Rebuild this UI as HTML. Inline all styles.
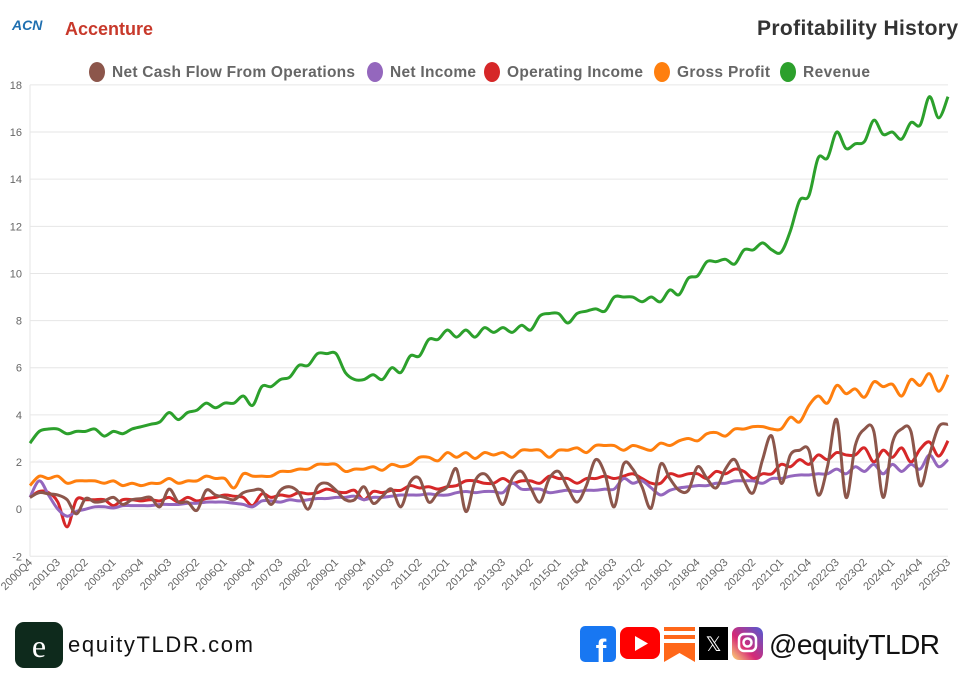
<!DOCTYPE html>
<html><head><meta charset="utf-8"><style>
body{margin:0;background:#fff;font-family:"Liberation Sans",sans-serif;}
#wrap{position:relative;width:960px;height:682px;overflow:hidden;}
</style></head><body>
<div id="wrap">
<svg id="chart" width="960" height="682" viewBox="0 0 960 682" xmlns="http://www.w3.org/2000/svg">
  <text x="12" y="30" font-size="14" font-weight="bold" font-style="italic" fill="#1f6fb0">ACN</text>
  <text x="65" y="35" font-size="18" font-weight="bold" fill="#c8392b">Accenture</text>
  <text x="958" y="35" font-size="21" font-weight="bold" fill="#333" text-anchor="end" textLength="201">Profitability History</text>
  <g id="legend"></g>
  <g id="grid"></g>
  <g id="yaxis"></g>
  <g id="xaxis"></g>
  <g id="series"></g>
  <!-- footer -->
  <rect x="15" y="622" width="48" height="46" rx="9" fill="#0e2a1c"/>
  <text x="39" y="657" font-size="32" font-family="Liberation Serif,serif" fill="#fff" text-anchor="middle">e</text>
  <text x="68" y="652" font-size="22" fill="#111" textLength="185">equityTLDR.com</text>
  <rect x="580" y="626" width="36" height="36" rx="5" fill="#1877f2"/>
  <text x="601" y="662" font-size="32" font-weight="bold" fill="#fff" text-anchor="middle">f</text>
  <rect x="620" y="627" width="40" height="32" rx="8" fill="#ff0000"/>
  <polygon points="635,636 635,651 648,643.5" fill="#fff"/>
  <g><rect x="664" y="627" width="31" height="4" fill="#ff6719"/><rect x="664" y="635" width="31" height="4" fill="#ff6719"/><polygon points="664,643 695,643 695,662 679.5,653 664,662" fill="#ff6719"/></g>
  <rect x="699" y="627" width="29" height="33" fill="#000"/>
  <text x="713.5" y="651" font-size="20" fill="#fff" text-anchor="middle">𝕏</text>
  <defs><linearGradient id="ig" x1="0" y1="1" x2="1" y2="0"><stop offset="0" stop-color="#feda75"/><stop offset="0.4" stop-color="#d62976"/><stop offset="1" stop-color="#4f5bd5"/></linearGradient></defs>
  <rect x="732" y="627" width="31" height="33" rx="7" fill="url(#ig)"/>
  <rect x="739" y="634" width="17" height="17" rx="5" fill="none" stroke="#fff" stroke-width="2.5"/>
  <circle cx="747.5" cy="642.5" r="4" fill="none" stroke="#fff" stroke-width="2.5"/>
  <text x="769" y="654" font-size="28" fill="#111" textLength="171">@equityTLDR</text>
</svg>
</div>
<script>
const quarters = [];
for (let y = 2000, q = 4; quarters.length < 100; ) { quarters.push(y + 'Q' + q); q++; if (q > 4) { q = 1; y++; } }
const yTicks = [-2, 0, 2, 4, 6, 8, 10, 12, 14, 16, 18];
const seriesNames = ["Net Cash Flow From Operations", "Net Income", "Operating Income", "Gross Profit", "Revenue"];
const seriesColors = ["#8c564b", "#9467bd", "#d62728", "#ff7f0e", "#2ca02c"];
const revenue = [2.8,3.3,3.4,3.4,3.2,3.3,3.3,3.4,3.1,3.3,3.2,3.4,3.5,3.6,3.7,4.1,3.8,4.1,4.2,4.5,4.3,4.5,4.5,4.8,4.4,5.2,5.2,5.5,5.6,6.1,6.1,6.6,6.6,
6.6,5.8,5.5,5.5,5.7,5.5,6.0,5.8,6.5,6.5,7.2,7.2,7.6,7.3,7.6,7.3,7.7,7.5,7.7,7.5,7.8,7.6,8.2,8.3,8.3,7.9,8.3,8.4,8.5,8.4,9.0,9.0,9.0,
8.8,9.0,8.8,9.3,9.1,9.8,9.9,10.5,10.5,10.6,10.4,11.0,11.0,11.3,11.0,10.9,11.8,13.1,13.3,14.9,14.9,16.0,15.3,15.5,15.6,16.5,15.9,16.0,15.7,16.4,16.3,17.5,16.6,17.5];
const grossProfit = [1.0,1.4,1.3,1.4,1.1,1.2,1.2,1.2,1.1,1.2,1.0,1.1,1.0,1.1,1.1,1.3,1.1,1.2,1.2,1.4,1.3,1.3,0.9,1.5,1.4,1.4,1.4,1.6,1.6,1.7,1.7,1.9,1.9,
1.9,1.6,1.7,1.7,1.8,1.65,1.9,1.8,1.9,2.2,2.2,2.05,2.4,2.2,2.4,2.15,2.4,2.3,2.4,2.2,2.5,2.5,2.5,2.2,2.5,2.5,2.6,2.4,2.7,2.7,2.7,2.5,2.7,
2.6,2.5,2.8,2.7,2.9,3.0,2.9,3.2,3.25,3.1,3.4,3.4,3.5,3.5,3.4,3.4,3.9,3.7,4.4,4.8,4.5,5.25,4.9,5.1,4.75,5.4,5.2,5.3,4.8,5.5,5.25,5.75,5.0,5.7];
const operatingIncome = [0.5,0.75,0.7,0.3,-0.75,0.4,0.4,0.4,0.4,0.15,0.4,0.4,0.35,0.4,0.35,0.5,0.3,0.5,0.35,0.45,0.5,0.6,0.55,0.5,0.15,0.65,0.5,0.6,0.55,0.7,0.65,0.7,0.85,
0.75,0.7,0.8,0.4,0.75,0.7,0.8,0.8,1.0,0.9,0.95,0.85,0.95,1.0,1.2,1.2,1.1,1.1,1.3,1.1,1.2,1.2,1.1,1.4,1.3,1.3,1.1,1.3,1.3,1.4,1.3,1.4,1.5,
1.3,1.1,1.1,1.5,1.4,1.5,1.5,1.3,1.6,1.5,1.7,1.6,1.3,1.5,1.5,1.9,1.8,2.1,1.9,2.3,2.1,2.4,2.3,2.3,2.6,2.0,2.5,2.2,2.6,2.0,2.55,2.85,2.25,2.9];
const netIncome = [0.5,1.2,0.6,0.0,-0.3,-0.1,0.0,0.1,0.1,0.05,0.15,0.15,0.15,0.15,0.2,0.2,0.2,0.25,0.25,0.3,0.3,0.3,0.25,0.2,0.1,0.35,0.35,0.3,0.4,0.35,0.4,0.45,0.45,
0.5,0.5,0.55,0.4,0.5,0.5,0.55,0.6,0.6,0.6,0.65,0.6,0.6,0.7,0.75,0.7,0.75,0.75,0.7,1.1,0.85,0.85,0.85,0.7,0.75,0.8,0.75,0.8,0.8,0.85,0.85,1.3,1.1,
1.2,0.9,0.6,0.8,0.9,0.95,1.0,1.0,1.1,1.1,1.2,1.2,1.2,1.1,1.3,1.3,1.4,1.45,1.45,1.5,1.5,1.7,1.5,1.8,1.6,1.9,1.5,1.9,1.6,1.9,1.7,2.3,1.8,2.1];
const netCashFlow = [0.5,0.7,0.65,0.6,0.4,-0.2,0.45,0.3,0.35,0.5,0.2,0.4,0.45,0.5,0.1,0.85,0.3,0.3,-0.05,0.8,0.6,0.5,0.4,0.7,0.8,0.8,0.2,0.8,0.95,0.7,0.0,0.95,1.1,
0.8,0.4,0.4,0.95,0.25,0.55,0.85,0.1,1.15,1.3,0.3,0.7,0.95,1.7,-0.1,1.2,1.5,1.0,0.2,1.3,1.6,0.9,0.3,1.3,1.6,0.9,0.3,1.0,2.1,1.5,0.1,1.9,1.7,
0.95,0.05,1.9,1.3,0.8,0.8,1.8,1.3,0.9,1.7,2.1,1.2,0.7,2.1,3.1,1.1,2.3,2.5,2.5,0.6,1.8,3.8,0.5,2.7,3.4,3.3,0.5,2.8,3.4,3.3,1.0,2.3,3.5,3.6];
const seriesData = [netCashFlow, netIncome, operatingIncome, grossProfit, revenue];

const NS = "http://www.w3.org/2000/svg";
const X0 = 30, X1 = 948, YTOP = 84.9, YBOT = 556.3, VMIN = -2, VMAX = 18;
const xScale = i => X0 + (X1 - X0) * i / (quarters.length - 1);
const yScale = v => YBOT - (v - VMIN) / (VMAX - VMIN) * (YBOT - YTOP);
function mk(tag, attrs, parent) { const e = document.createElementNS(NS, tag); for (const k in attrs) e.setAttribute(k, attrs[k]); parent.appendChild(e); return e; }

const grid = document.getElementById('grid'), yax = document.getElementById('yaxis'), xax = document.getElementById('xaxis');
yTicks.forEach(t => {
  const l = mk('line', {x1: X0, x2: X1, y1: yScale(t), y2: yScale(t), stroke: '#e6e6e6', 'stroke-width': 1}, grid);
  
  
  const tx = mk('text', {x: 22, y: yScale(t) + 4, 'font-size': 11, fill: '#666', 'text-anchor': 'end'}, yax);
  tx.textContent = t;
  
  
});
const ax = mk('line', {x1: X0, x2: X0, y1: YTOP, y2: YBOT, stroke: '#e6e6e6'}, grid);


quarters.forEach((q, i) => {
  if (i % 3 !== 0) return;
  const x = xScale(i) + 3, y = 563;
  const tx = mk('text', {x: x, y: y, 'font-size': 11, fill: '#666', 'text-anchor': 'end', transform: `rotate(-45 ${x} ${y})`}, xax);
  tx.textContent = q;
  
  
});

function smoothPath(vals) {
  const n = Math.min(vals.length, quarters.length);
  const p = vals.slice(0, n).map((v, i) => [xScale(i), yScale(v)]);
  let d = `M${p[0][0]},${p[0][1]}`;
  for (let i = 0; i < p.length - 1; i++) {
    const p0 = p[i - 1] || p[i], p1 = p[i], p2 = p[i + 1], p3 = p[i + 2] || p2;
    const c1 = [p1[0] + (p2[0] - p0[0]) / 6, p1[1] + (p2[1] - p0[1]) / 6];
    const c2 = [p2[0] - (p3[0] - p1[0]) / 6, p2[1] - (p3[1] - p1[1]) / 6];
    d += ` C${c1[0]},${c1[1]} ${c2[0]},${c2[1]} ${p2[0]},${p2[1]}`;
  }
  return d;
}
const sg = document.getElementById('series');
const order = [3, 4, 2, 1, 0];
order.forEach(k => {
  const path = mk('path', {d: smoothPath(seriesData[k]), fill: 'none', stroke: seriesColors[k], 'stroke-width': 3, 'stroke-linejoin': 'round'}, sg);
  
  
});

const lg = document.getElementById('legend');
const legendX = [97, 375, 492, 662, 788];
const legendW = [243, 86, 136, 93, 67];
seriesNames.forEach((n, k) => {
  const g = mk('g', {}, lg);
  
  
  mk('ellipse', {cx: legendX[k], cy: 72, rx: 8, ry: 10, fill: seriesColors[k]}, g);
  const t = mk('text', {x: legendX[k] + 15, y: 77, 'font-size': 15.5, 'font-weight': 'bold', fill: '#666', textLength: legendW[k]}, g);
  t.textContent = n;
});
</script>
</body></html>
